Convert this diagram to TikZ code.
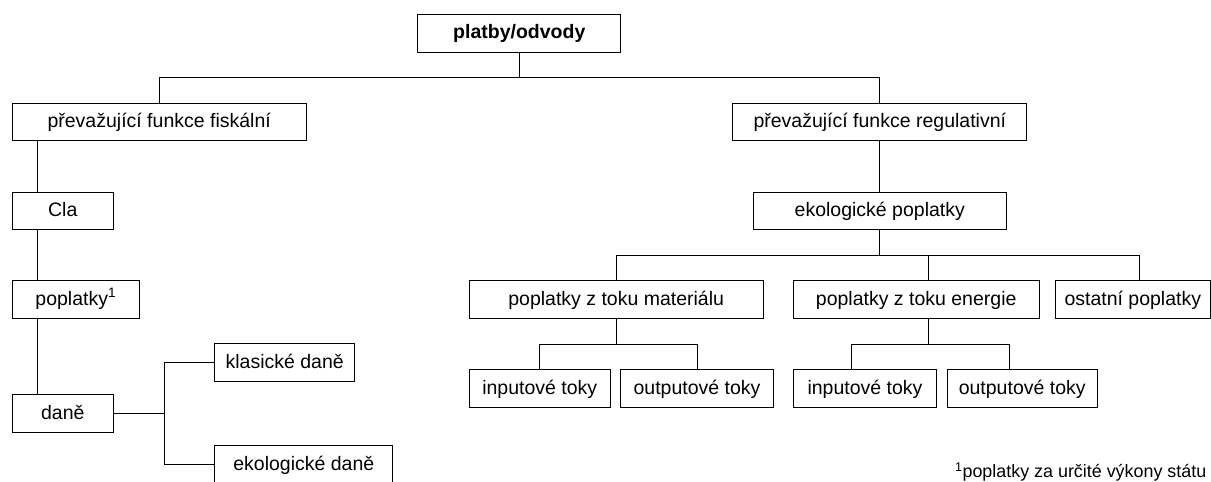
\documentclass[tikz,border=0pt]{standalone}
\usepackage{fontspec}
\setmainfont{Liberation Sans}
\begin{document}
\begin{tikzpicture}[x=1pt,y=-1pt,
  box/.style={draw=black, line width=1pt, inner sep=0pt, minimum height=37.6pt,
    text height=15pt, text depth=3.6pt, font=\fontsize{19.5}{23}\selectfont},
  conn/.style={draw=black, line width=1pt},
  note/.style={inner sep=0pt, font=\fontsize{17.9}{21}\selectfont}]
\useasboundingbox (0,0) rectangle (1211,482);
% boxes
\node[box, minimum width=203.3pt, font=\fontsize{19.5}{23}\selectfont\bfseries] (top) at (519.3,33.2) {platby/odvody};
\node[box, minimum width=293.7pt, minimum height=37pt] (fisc) at (159.2,121.8) {převažující funkce fiskální};
\node[box, minimum width=294.3pt, minimum height=37pt] (reg) at (879.8,121.8) {převažující funkce regulativní};
\node[box, minimum width=101pt, minimum height=37.4pt] (cla) at (62.8,211) {Cla};
\node[box, minimum width=127pt] (popl) at (75.8,299.5) {poplatky\textsuperscript{1}};
\node[box, minimum width=101pt, minimum height=37.7pt] (dane) at (62.8,413.8) {daně};
\node[box, minimum width=140pt, minimum height=38pt] (klas) at (284.7,362.7) {klasické daně};
\node[box, minimum width=178.3pt, minimum height=37.8pt] (ekodane) at (303.8,464.6) {ekologické daně};
\node[box, minimum width=253pt, minimum height=37.4pt] (eko) at (879.8,211) {ekologické poplatky};
\node[box, minimum width=293.7pt, minimum height=38pt] (mat) at (616.2,299.7) {poplatky z toku materiálu};
\node[box, minimum width=245.7pt, minimum height=38pt] (ene) at (916.2,299.7) {poplatky z toku energie};
\node[box, minimum width=155.5pt, minimum height=38pt] (ost) at (1132.8,299.7) {ostatní poplatky};
\node[box, minimum width=140.7pt] (in1) at (539.7,388.5) {inputové toky};
\node[box, minimum width=152.6pt] (out1) at (697,388.5) {outputové toky};
\node[box, minimum width=143.4pt] (in2) at (865,388.5) {inputové toky};
\node[box, minimum width=150.3pt] (out2) at (1022.2,388.5) {outputové toky};
% footnote
\node[note, anchor=base east] (fn) at (1206.5,477.3) {\textsuperscript{1}poplatky za určité výkony státu};
% helper coordinates
\coordinate (ty) at (0,77.7);
\coordinate (lx) at (37.3,0);
\coordinate (dx) at (164.3,0);
\coordinate (hy) at (0,255.7);
\coordinate (sy) at (0,344.4);
\coordinate (ex) at (928.3,0);
\coordinate (ox) at (1139,0);
\coordinate (i2x) at (851.7,0);
\coordinate (o2x) at (1009.7,0);
% connectors
\draw[conn] (top.south) -- (top.south |- ty);
\draw[conn] (fisc.north) -- (fisc.north |- ty) -- (reg.north |- ty) -- (reg.north);
\draw[conn] (fisc.south -| lx) -- (cla.north -| lx);
\draw[conn] (cla.south -| lx) -- (popl.north -| lx);
\draw[conn] (popl.south -| lx) -- (dane.north -| lx);
\draw[conn] (dane.east) -- (dane.east -| dx);
\draw[conn] (klas.west) -- (klas.west -| dx) -- (ekodane.west -| dx) -- (ekodane.west);
\draw[conn] (reg.south) -- (eko.north);
\draw[conn] (eko.south) -- (eko.south |- hy);
\draw[conn] (mat.north) -- (mat.north |- hy) -- (ox |- hy) -- (ox |- ost.north);
\draw[conn] (ex |- hy) -- (ex |- ene.north);
\draw[conn] (mat.south) -- (mat.south |- sy);
\draw[conn] (in1.north) -- (in1.north |- sy) -- (out1.north |- sy) -- (out1.north);
\draw[conn] (ex |- ene.south) -- (ex |- sy);
\draw[conn] (i2x |- in2.north) -- (i2x |- sy) -- (o2x |- sy) -- (o2x |- out2.north);
\end{tikzpicture}
\end{document}
